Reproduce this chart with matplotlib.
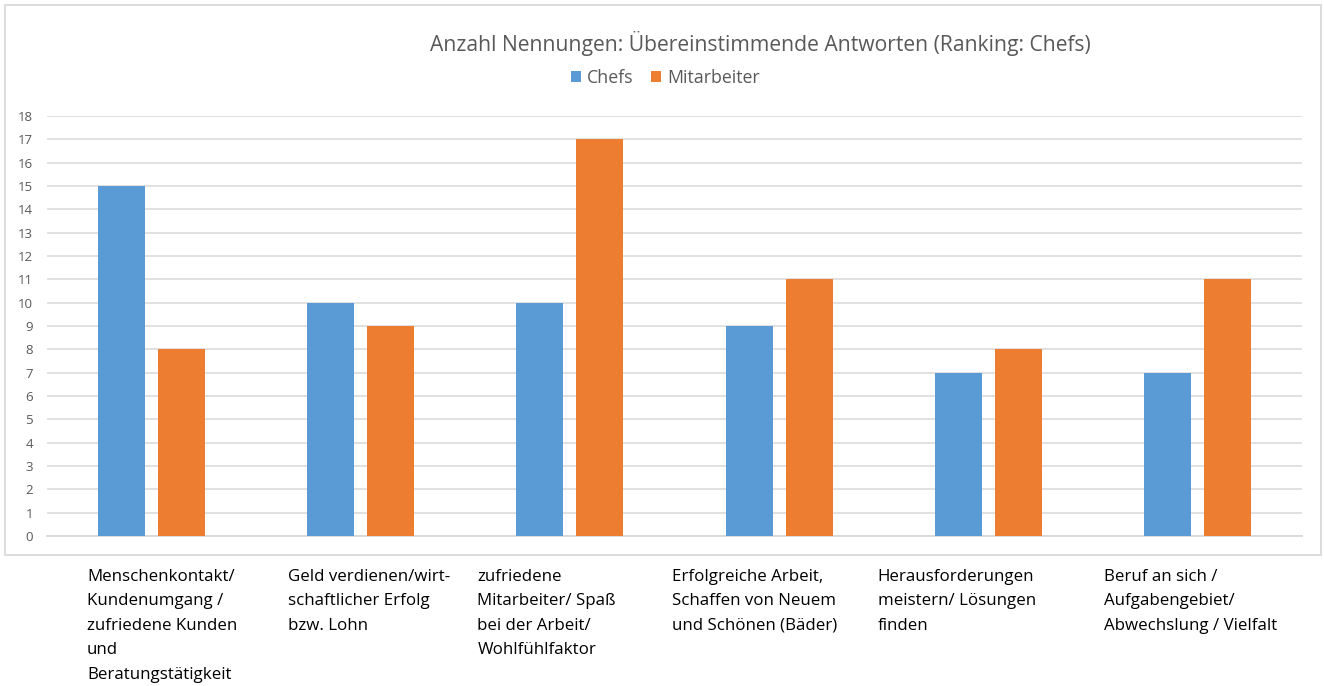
import matplotlib
matplotlib.use("Agg")
import matplotlib.pyplot as plt
from matplotlib.patches import Rectangle, Patch
import numpy as np

plt.rcParams['font.family'] = ['Open Sans', 'DejaVu Sans']

title = "Anzahl Nennungen: Übereinstimmende Antworten (Ranking: Chefs)"
categories = [
    "Menschenkontakt/\nKundenumgang /\nzufriedene Kunden\nund\nBeratungstätigkeit",
    "Geld verdienen/wirt-\nschaftlicher Erfolg\nbzw. Lohn",
    "zufriedene\nMitarbeiter/ Spaß\nbei der Arbeit/\nWohlfühlfaktor",
    "Erfolgreiche Arbeit,\nSchaffen von Neuem\nund Schönen (Bäder)",
    "Herausforderungen\nmeistern/ Lösungen\nfinden",
    "Beruf an sich /\nAufgabengebiet/\nAbwechslung / Vielfalt",
]
series_names = ["Chefs", "Mitarbeiter"]
chefs = [15, 10, 10, 9, 7, 7]
mitarbeiter = [8, 9, 17, 11, 8, 11]
yticks = list(range(0, 19))

# layout
W, H = 1324, 686
label_left_offsets = [-0.309, -0.348, -0.443, -0.512, -0.528, -0.447]
blue = "#5B9BD5"
orange = "#ED7D31"
textgray = "#595959"
gridgray = "#D9D9D9"

fig = plt.figure(figsize=(W / 100, H / 100), dpi=100)
# chart-area border
fig.patches.append(Rectangle((5 / W, 1 - 555 / H), (1321 - 5) / W, (555 - 5) / H,
                             transform=fig.transFigure, fill=False,
                             edgecolor=gridgray, linewidth=1.3))

ax = fig.add_axes([47 / W, 1 - 536 / H, (1302 - 47) / W, (536 - 116) / H])
x = np.arange(len(categories))
bw = 0.2247
off = 0.1435
ax.bar(x - off, chefs, bw, color=blue, zorder=3)
ax.bar(x + off, mitarbeiter, bw, color=orange, zorder=3)

ax.set_xlim(-0.5, len(categories) - 0.5)
ax.set_ylim(0, 18)
ax.set_yticks(yticks)
ax.set_yticklabels([str(v) for v in yticks], color=textgray, fontsize=9.5)
ax.tick_params(axis='y', length=0, pad=10)
ax.tick_params(axis='x', length=0, labelbottom=False)
ax.grid(axis='y', color=gridgray, linewidth=1.1, zorder=0)
for s in ['top', 'right', 'left']:
    ax.spines[s].set_visible(False)
ax.spines['bottom'].set_color(gridgray)
ax.spines['bottom'].set_linewidth(1.3)

for i, lab in enumerate(categories):
    ax.text(i + label_left_offsets[i], -1.4, lab, ha='left', va='top',
            fontsize=12.2, color='black', linespacing=1.71,
            transform=ax.transData, clip_on=False)

fig.text(760 / W, 1 - 44 / H, title, ha='center', va='center',
         fontsize=15.2, color=textgray)

handles = [Patch(facecolor=blue), Patch(facecolor=orange)]
fig.legend(handles, series_names, loc='center', bbox_to_anchor=(665 / W, 1 - 78 / H),
           ncol=2, frameon=False, fontsize=12.8, handlelength=0.6, handleheight=0.6,
           handletextpad=0.3, columnspacing=1.0, labelcolor=textgray)

fig.savefig("out.png", dpi=100)
